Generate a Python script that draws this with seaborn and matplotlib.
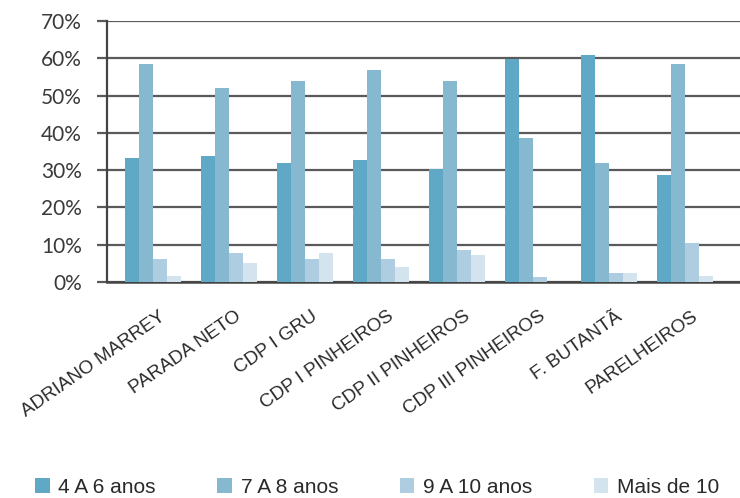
import matplotlib
matplotlib.use("Agg")
import matplotlib.pyplot as plt
import matplotlib.transforms as mtransforms
from matplotlib.patches import Patch
import seaborn as sns
import pandas as pd

unidades = ["ADRIANO MARREY", "PARADA NETO", "CDP I GRU", "CDP I PINHEIROS",
            "CDP II PINHEIROS", "CDP III PINHEIROS", "F. BUTANTÃ", "PARELHEIROS"]
faixas = ["4 A 6 anos", "7 A 8 anos", "9 A 10 anos", "Mais de 10"]

anos_4_6 = [33.2, 33.7, 31.8, 32.6, 30.2, 59.7, 61.0, 28.6]
anos_7_8 = [58.6, 51.9, 53.8, 56.8, 53.8, 38.5, 31.8, 58.6]
anos_9_10 = [6.1, 7.7, 6.1, 6.1, 8.5, 1.3, 2.3, 10.4]
mais_de_10 = [1.5, 5.0, 7.7, 3.9, 7.2, 0.0, 2.3, 1.5]

cores = ["#5fa9c7", "#86b8d0", "#afcde0", "#d4e4ee"]

rows = []
for serie, valores in zip(faixas, [anos_4_6, anos_7_8, anos_9_10, mais_de_10]):
    for u, v in zip(unidades, valores):
        rows.append({"unidade": u, "faixa": serie, "valor": v})
df = pd.DataFrame(rows)

sns.set_style("white")
plt.rcParams["font.family"] = ["Liberation Sans", "DejaVu Sans"]

fig = plt.figure(figsize=(7.4, 4.98), dpi=100)
ax = fig.add_axes([107 / 740, 1 - 282 / 498, 1 - 107 / 740, (282 - 21) / 498])

sns.barplot(data=df, x="unidade", y="valor", hue="faixa", order=unidades,
            hue_order=faixas, palette=cores, width=0.735, gap=0,
            saturation=1, ax=ax, legend=False, zorder=3)
for p in ax.patches:
    p.set_edgecolor("none")

ax.set_ylim(0, 70)
ax.set_xlim(-0.6, 7.72)
ax.set_yticks(range(0, 71, 10))
ax.set_yticklabels([f"{t}%" for t in range(0, 71, 10)], fontsize=15,
                   color="#3a3a3a", family=["Lato", "DejaVu Sans"])
ax.yaxis.grid(True, color="#5a5a5a", linewidth=1.6, zorder=1)
ax.set_axisbelow(True)
ax.tick_params(axis="y", length=7, width=1.6, color="#5a5a5a", pad=11, left=True)
ax.tick_params(axis="x", length=0, pad=0)

for side in ["top", "right"]:
    ax.spines[side].set_visible(False)
ax.spines["left"].set_color("#444444")
ax.spines["left"].set_linewidth(1.6)
ax.spines["bottom"].set_color("#444444")
ax.spines["bottom"].set_linewidth(1.8)
ax.set_xlabel("")
ax.set_ylabel("")

# Rotated category names: upper-right corner just right of and below each tick
offset = mtransforms.ScaledTranslation(0.06, -0.26, fig.dpi_scale_trans)
ax.set_xticks(range(len(unidades)))
ax.set_xticklabels(unidades, rotation=35, ha="right", va="top",
                   rotation_mode="anchor", fontsize=13.6, color="#2a2a2a")
for lbl in ax.get_xticklabels():
    lbl.set_transform(lbl.get_transform() + offset)

handles = [Patch(facecolor=c, edgecolor="none") for c in cores]
fig.legend(handles, faixas, loc="lower left", bbox_to_anchor=(35 / 740, 0.002),
           ncol=4, frameon=False, borderpad=0, borderaxespad=0,
           handlelength=0.7, handleheight=0.7, handletextpad=0.42,
           columnspacing=2.95, labelcolor="#2a2a2a",
           prop={"family": ["Liberation Sans", "DejaVu Sans"], "size": 15})

fig.savefig("out.png", dpi=100)
